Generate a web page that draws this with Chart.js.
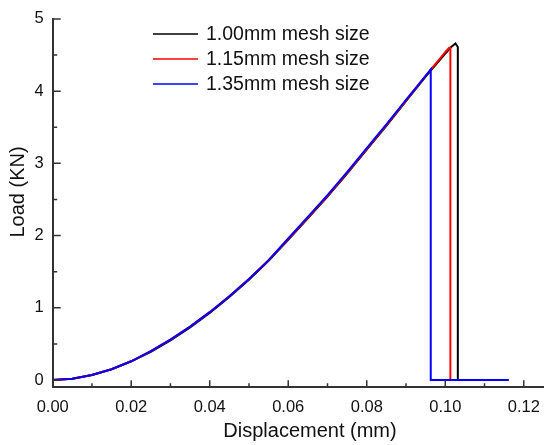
<!DOCTYPE html>
<html>
<head>
<meta charset="utf-8">
<script src="https://cdn.jsdelivr.net/npm/chart.js@4/dist/chart.umd.min.js"></script>
<style>
  html, body { margin: 0; padding: 0; background: #fff; }
  #wrap { width: 550px; height: 445px; position: relative; }
</style>
</head>
<body>
<div id="wrap"><canvas id="c"></canvas></div>
<script>
// ---- data ----
const seriesLabels = ['1.00mm mesh size', '1.15mm mesh size', '1.35mm mesh size'];
const seriesColors = ['#000000', '#ff0000', '#0000ff'];

const dispA = [0, 0.005, 0.01, 0.015, 0.02, 0.025, 0.03, 0.035, 0.04, 0.045, 0.05, 0.055, 0.06, 0.065, 0.07, 0.075, 0.08, 0.085, 0.09, 0.095, 0.1, 0.1015, 0.1026, 0.1032, 0.1032];
const loadA = [0, 0.02, 0.07, 0.15, 0.26, 0.39, 0.55, 0.73, 0.93, 1.15, 1.39, 1.65, 1.94, 2.24, 2.54, 2.86, 3.19, 3.52, 3.86, 4.20, 4.52, 4.61, 4.66, 4.61, 0];

const dispB = [0, 0.005, 0.01, 0.015, 0.02, 0.025, 0.03, 0.035, 0.04, 0.045, 0.05, 0.055, 0.06, 0.065, 0.07, 0.075, 0.08, 0.085, 0.09, 0.095, 0.1, 0.101, 0.1013, 0.1013];
const loadB = [0, 0.02, 0.07, 0.15, 0.26, 0.40, 0.56, 0.74, 0.94, 1.16, 1.40, 1.66, 1.95, 2.25, 2.55, 2.87, 3.20, 3.53, 3.87, 4.21, 4.54, 4.60, 4.60, 0];

const dispC = [0, 0.005, 0.01, 0.015, 0.02, 0.025, 0.03, 0.035, 0.04, 0.045, 0.05, 0.055, 0.06, 0.065, 0.07, 0.075, 0.08, 0.085, 0.09, 0.095, 0.0963, 0.0963, 0.1162];
const loadC = [0, 0.02, 0.07, 0.15, 0.26, 0.40, 0.56, 0.74, 0.94, 1.16, 1.40, 1.66, 1.96, 2.26, 2.56, 2.88, 3.21, 3.54, 3.88, 4.21, 4.30, 0, 0];

const xTickValues = [0, 0.02, 0.04, 0.06, 0.08, 0.10, 0.12];
const xMinorValues = [0.01, 0.03, 0.05, 0.07, 0.09, 0.11];
const yTickValues = [0, 1, 2, 3, 4, 5];
const yMinorValues = [0.5, 1.5, 2.5, 3.5, 4.5];

const xTitle = 'Displacement (mm)';
const yTitle = 'Load (KN)';

const FONT = "'Liberation Sans', Arial, sans-serif";
const AXIS_COLOR = '#333333';
const TEXT_COLOR = '#111111';

function pts(xs, ys) { return xs.map((x, i) => ({ x: x, y: ys[i] })); }

const decorPlugin = {
  id: 'decor',
  afterDraw(chart) {
    const ctx = chart.ctx;
    const xs = chart.scales.x, ys = chart.scales.y;
    const area = chart.chartArea;
    ctx.save();
    // inward tick marks
    ctx.strokeStyle = AXIS_COLOR;
    ctx.lineWidth = 1.5;
    ctx.beginPath();
    xTickValues.forEach(v => { const p = xs.getPixelForValue(v); ctx.moveTo(p, area.bottom); ctx.lineTo(p, area.bottom - 7); });
    xMinorValues.forEach(v => { const p = xs.getPixelForValue(v); ctx.moveTo(p, area.bottom); ctx.lineTo(p, area.bottom - 4); });
    yTickValues.forEach(v => { const p = ys.getPixelForValue(v); ctx.moveTo(area.left, p); ctx.lineTo(area.left + 8, p); });
    yMinorValues.forEach(v => { const p = ys.getPixelForValue(v); ctx.moveTo(area.left, p); ctx.lineTo(area.left + 4.5, p); });
    ctx.stroke();

    // axis titles
    ctx.fillStyle = TEXT_COLOR;
    ctx.font = '20px ' + FONT;
    ctx.textAlign = 'center';
    ctx.textBaseline = 'middle';
    ctx.fillText(xTitle, 310, 431);
    ctx.save();
    ctx.translate(18, 192);
    ctx.rotate(-Math.PI / 2);
    ctx.fillText(yTitle, 0, 0);
    ctx.restore();

    // legend inside plot
    const lx0 = 153, lx1 = 198, tx = 206;
    const rowY = [34, 59, 84];
    ctx.font = '19.5px ' + FONT;
    ctx.textBaseline = 'middle';
    ctx.textAlign = 'left';
    chart.data.datasets.forEach((ds, i) => {
      ctx.strokeStyle = ds.borderColor;
      ctx.lineWidth = 1.5;
      ctx.beginPath();
      ctx.moveTo(lx0, rowY[i]);
      ctx.lineTo(lx1, rowY[i]);
      ctx.stroke();
      ctx.fillStyle = TEXT_COLOR;
      ctx.fillText(ds.label, tx, rowY[i] + 1);
    });
    ctx.restore();
  }
};

new Chart(document.getElementById('c'), {
  type: 'scatter',
  data: {
    datasets: [
      { label: seriesLabels[0], data: pts(dispA, loadA), borderColor: seriesColors[0], order: 3 },
      { label: seriesLabels[1], data: pts(dispB, loadB), borderColor: seriesColors[1], order: 2 },
      { label: seriesLabels[2], data: pts(dispC, loadC), borderColor: seriesColors[2], order: 1 }
    ].map(d => Object.assign(d, { showLine: true, pointRadius: 0, borderWidth: 2, tension: 0, fill: false, backgroundColor: d.borderColor }))
  },
  options: {
    responsive: true,
    maintainAspectRatio: false,
    animation: false,
    layout: { padding: { top: 15, right: 4, left: 0, bottom: 0 } },
    plugins: { legend: { display: false }, tooltip: { enabled: false } },
    scales: {
      x: {
        type: 'linear',
        min: 0, max: 0.125,
        afterBuildTicks: s => { s.ticks = xTickValues.map(v => ({ value: v })); },
        afterFit: s => { s.height = 57.7; },
        grid: { display: false, drawTicks: false },
        border: { display: true, color: AXIS_COLOR, width: 2 },
        ticks: { padding: 10, color: TEXT_COLOR, font: { family: FONT, size: 16.5 }, maxRotation: 0, callback: v => Number(v).toFixed(2) },
        title: { display: false, text: xTitle }
      },
      y: {
        type: 'linear',
        min: -0.1, max: 5,
        afterBuildTicks: s => { s.ticks = yTickValues.map(v => ({ value: v })); },
        afterFit: s => { s.width = 52.7; },
        grid: { display: false, drawTicks: false },
        border: { display: true, color: AXIS_COLOR, width: 2 },
        ticks: { padding: 9, color: TEXT_COLOR, font: { family: FONT, size: 16.5 }, callback: v => String(v) },
        title: { display: false, text: yTitle }
      }
    }
  },
  plugins: [decorPlugin]
});
</script>
</body>
</html>
